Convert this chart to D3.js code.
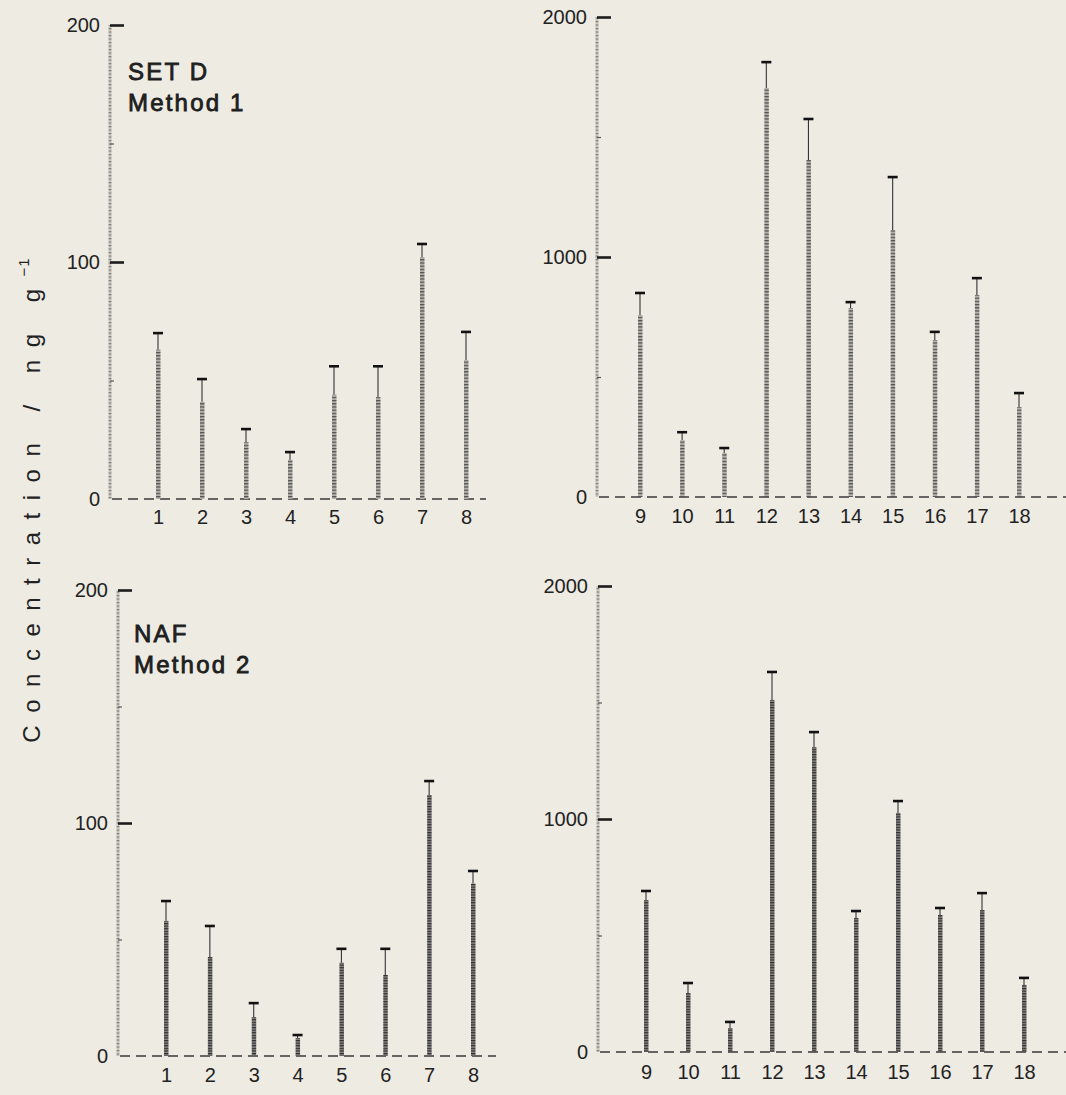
<!DOCTYPE html>
<html>
<head>
<meta charset="utf-8">
<script src="https://cdn.jsdelivr.net/npm/d3@7"></script>
<style>
  html, body { margin: 0; padding: 0; background: #eeebe3; }
  svg { display: block; }
  text { font-family: "Liberation Sans", Arial, Helvetica, sans-serif; fill: #222; }
</style>
</head>
<body>
<svg id="chart" width="1066" height="1095"></svg>
<script>
// ---------- data ----------
const catsLow = ["1", "2", "3", "4", "5", "6", "7", "8"];
const catsHigh = ["9", "10", "11", "12", "13", "14", "15", "16", "17", "18"];

const setDLowValues = [63, 41, 24, 16.5, 44, 43, 102, 58.6];
const setDLowErr    = [70, 50.6, 29.5, 19.8, 56, 56, 107.6, 70.5];
const setDHighValues = [758, 237, 183, 1704, 1404, 787, 1112, 654, 842, 375];
const setDHighErr    = [850, 270, 204, 1812, 1575, 812, 1333, 688, 912, 433];

const nafLowValues = [58, 42.5, 16.7, 7.7, 40, 34.8, 112, 74];
const nafLowErr    = [66.5, 55.8, 22.7, 9, 46, 46, 118, 79.4];
const nafHighValues = [652, 253, 103, 1511, 1309, 575, 1026, 588, 609, 288];
const nafHighErr    = [691, 296, 129, 1631, 1373, 605, 1077, 618, 682, 318];

const lowMajorTicks = [0, 100, 200];
const lowMinorTicks = [50, 150];
const highMajorTicks = [0, 1000, 2000];
const highMinorTicks = [500, 1500];

const titles = [["SET D", "Method 1"], ["NAF", "Method 2"]];
const yLabel = "Concentration / ng g";
const yLabelSup = "\u22121";

// ---------- drawing ----------
const svg = d3.select("#chart");
const defs = svg.append("defs");

function makePattern(id, base, mark, step) {
  const p = defs.append("pattern").attr("id", id)
    .attr("patternUnits", "userSpaceOnUse").attr("width", 5).attr("height", step);
  p.append("rect").attr("width", 5).attr("height", step).attr("fill", base);
  p.append("rect").attr("x", 0).attr("y", 0).attr("width", 5).attr("height", 1.2).attr("fill", mark);
}
makePattern("hatchLight", "#b3b0a8", "#505050", 3.2);
makePattern("hatchDark", "#8a8883", "#2e2e2e", 2.6);
makePattern("hatchAxis", "#cbc8bf", "#808080", 3.5);

const panels = [
  { cats: catsLow, vals: setDLowValues, errs: setDLowErr, max: 200, major: lowMajorTicks, minor: lowMinorTicks,
    ax: 110, y0: 499, yTop: 25, xr: [158, 466], xEnd: 486, labY: 525, hatch: "hatchLight", title: titles[0], tx: 128, ty: 80 },
  { cats: catsHigh, vals: setDHighValues, errs: setDHighErr, max: 2000, major: highMajorTicks, minor: highMinorTicks,
    ax: 597, y0: 497, yTop: 17, xr: [640, 1019], xEnd: 1066, labY: 524, hatch: "hatchLight" },
  { cats: catsLow, vals: nafLowValues, errs: nafLowErr, max: 200, major: lowMajorTicks, minor: lowMinorTicks,
    ax: 118, y0: 1056, yTop: 590, xr: [166, 473], xEnd: 496, labY: 1083, hatch: "hatchDark", title: titles[1], tx: 134, ty: 642 },
  { cats: catsHigh, vals: nafHighValues, errs: nafHighErr, max: 2000, major: highMajorTicks, minor: highMinorTicks,
    ax: 598, y0: 1052, yTop: 586, xr: [646, 1024], xEnd: 1066, labY: 1080, hatch: "hatchDark" }
];

panels.forEach(P => {
  const g = svg.append("g");
  const y = d3.scaleLinear().domain([0, P.max]).range([P.y0, P.yTop]);
  const x = d3.scalePoint().domain(P.cats).range(P.xr);

  // hatched y-axis spine
  g.append("rect").attr("x", P.ax - 1.5).attr("y", y(P.max)).attr("width", 3)
    .attr("height", y(0) - y(P.max)).attr("fill", "url(#hatchAxis)");

  // major tick marks (to the right)
  const major = g.append("g").attr("transform", `translate(${P.ax},0)`)
    .call(d3.axisRight(y).tickValues(P.major.filter(v => v > 0)).tickSize(14).tickFormat(""));
  major.select(".domain").remove();
  major.selectAll(".tick line").attr("stroke", "#1c1c1c").attr("stroke-width", 2.6);

  // minor tick marks
  const minor = g.append("g").attr("transform", `translate(${P.ax},0)`)
    .call(d3.axisRight(y).tickValues(P.minor).tickSize(4).tickFormat(""));
  minor.select(".domain").remove();
  minor.selectAll(".tick line").attr("stroke", "#555").attr("stroke-width", 1.2);

  // tick labels
  const lab = g.append("g").attr("transform", `translate(${P.ax},0)`)
    .call(d3.axisLeft(y).tickValues(P.major).tickSize(0).tickPadding(10).tickFormat(d3.format("d")));
  lab.select(".domain").remove();
  lab.selectAll(".tick text").attr("font-size", 20).attr("fill", "#222")
    .attr("font-family", "'Liberation Sans', Arial, sans-serif");

  // dashed baseline
  g.append("line").attr("x1", P.ax + 2).attr("x2", P.xEnd)
    .attr("y1", y(0)).attr("y2", y(0))
    .attr("stroke", "#3a3a3a").attr("stroke-width", 1.6).attr("stroke-dasharray", "10,6");

  const data = P.cats.map((c, i) => ({ c, v: P.vals[i], e: P.errs[i] }));

  // error lines
  g.selectAll(".err").data(data).join("line")
    .attr("x1", d => x(d.c)).attr("x2", d => x(d.c))
    .attr("y1", d => y(d.v)).attr("y2", d => y(d.e))
    .attr("stroke", "#333").attr("stroke-width", 1.1);
  g.selectAll(".cap").data(data).join("line")
    .attr("x1", d => x(d.c) - 5).attr("x2", d => x(d.c) + 5)
    .attr("y1", d => y(d.e)).attr("y2", d => y(d.e))
    .attr("stroke", "#111").attr("stroke-width", 2.6);

  // bars
  g.selectAll(".bar").data(data).join("rect")
    .attr("x", d => x(d.c) - 2).attr("width", 4.5)
    .attr("y", d => y(d.v)).attr("height", d => y(0) - y(d.v))
    .attr("fill", `url(#${P.hatch})`);

  // x labels
  const xa = g.append("g").attr("transform", `translate(0,${P.labY - 15})`)
    .call(d3.axisBottom(x).tickSize(0).tickPadding(0));
  xa.select(".domain").remove();
  xa.selectAll(".tick text").attr("font-size", 20).attr("fill", "#222").attr("dy", "0.71em")
    .attr("font-family", "'Liberation Sans', Arial, sans-serif");

  // panel title
  if (P.title) {
    const t = g.append("g");
    P.title.forEach((s, i) => {
      t.append("text").attr("x", P.tx).attr("y", P.ty + i * 31)
        .attr("font-size", 24).attr("letter-spacing", 2.2)
        .attr("fill", "#1a1a1a").attr("stroke", "#1a1a1a").attr("stroke-width", 0.8)
        .text(s);
    });
  }
});

// y-axis label
const yl = svg.append("text")
  .attr("transform", "translate(40,500) rotate(-90)")
  .attr("text-anchor", "middle")
  .attr("font-size", 24)
  .attr("letter-spacing", 12.5)
  .attr("fill", "#2a2a2a");
yl.append("tspan").text(yLabel);
yl.append("tspan").attr("font-size", 15).attr("dy", -11).attr("letter-spacing", 1).text(yLabelSup);
</script>
</body>
</html>
